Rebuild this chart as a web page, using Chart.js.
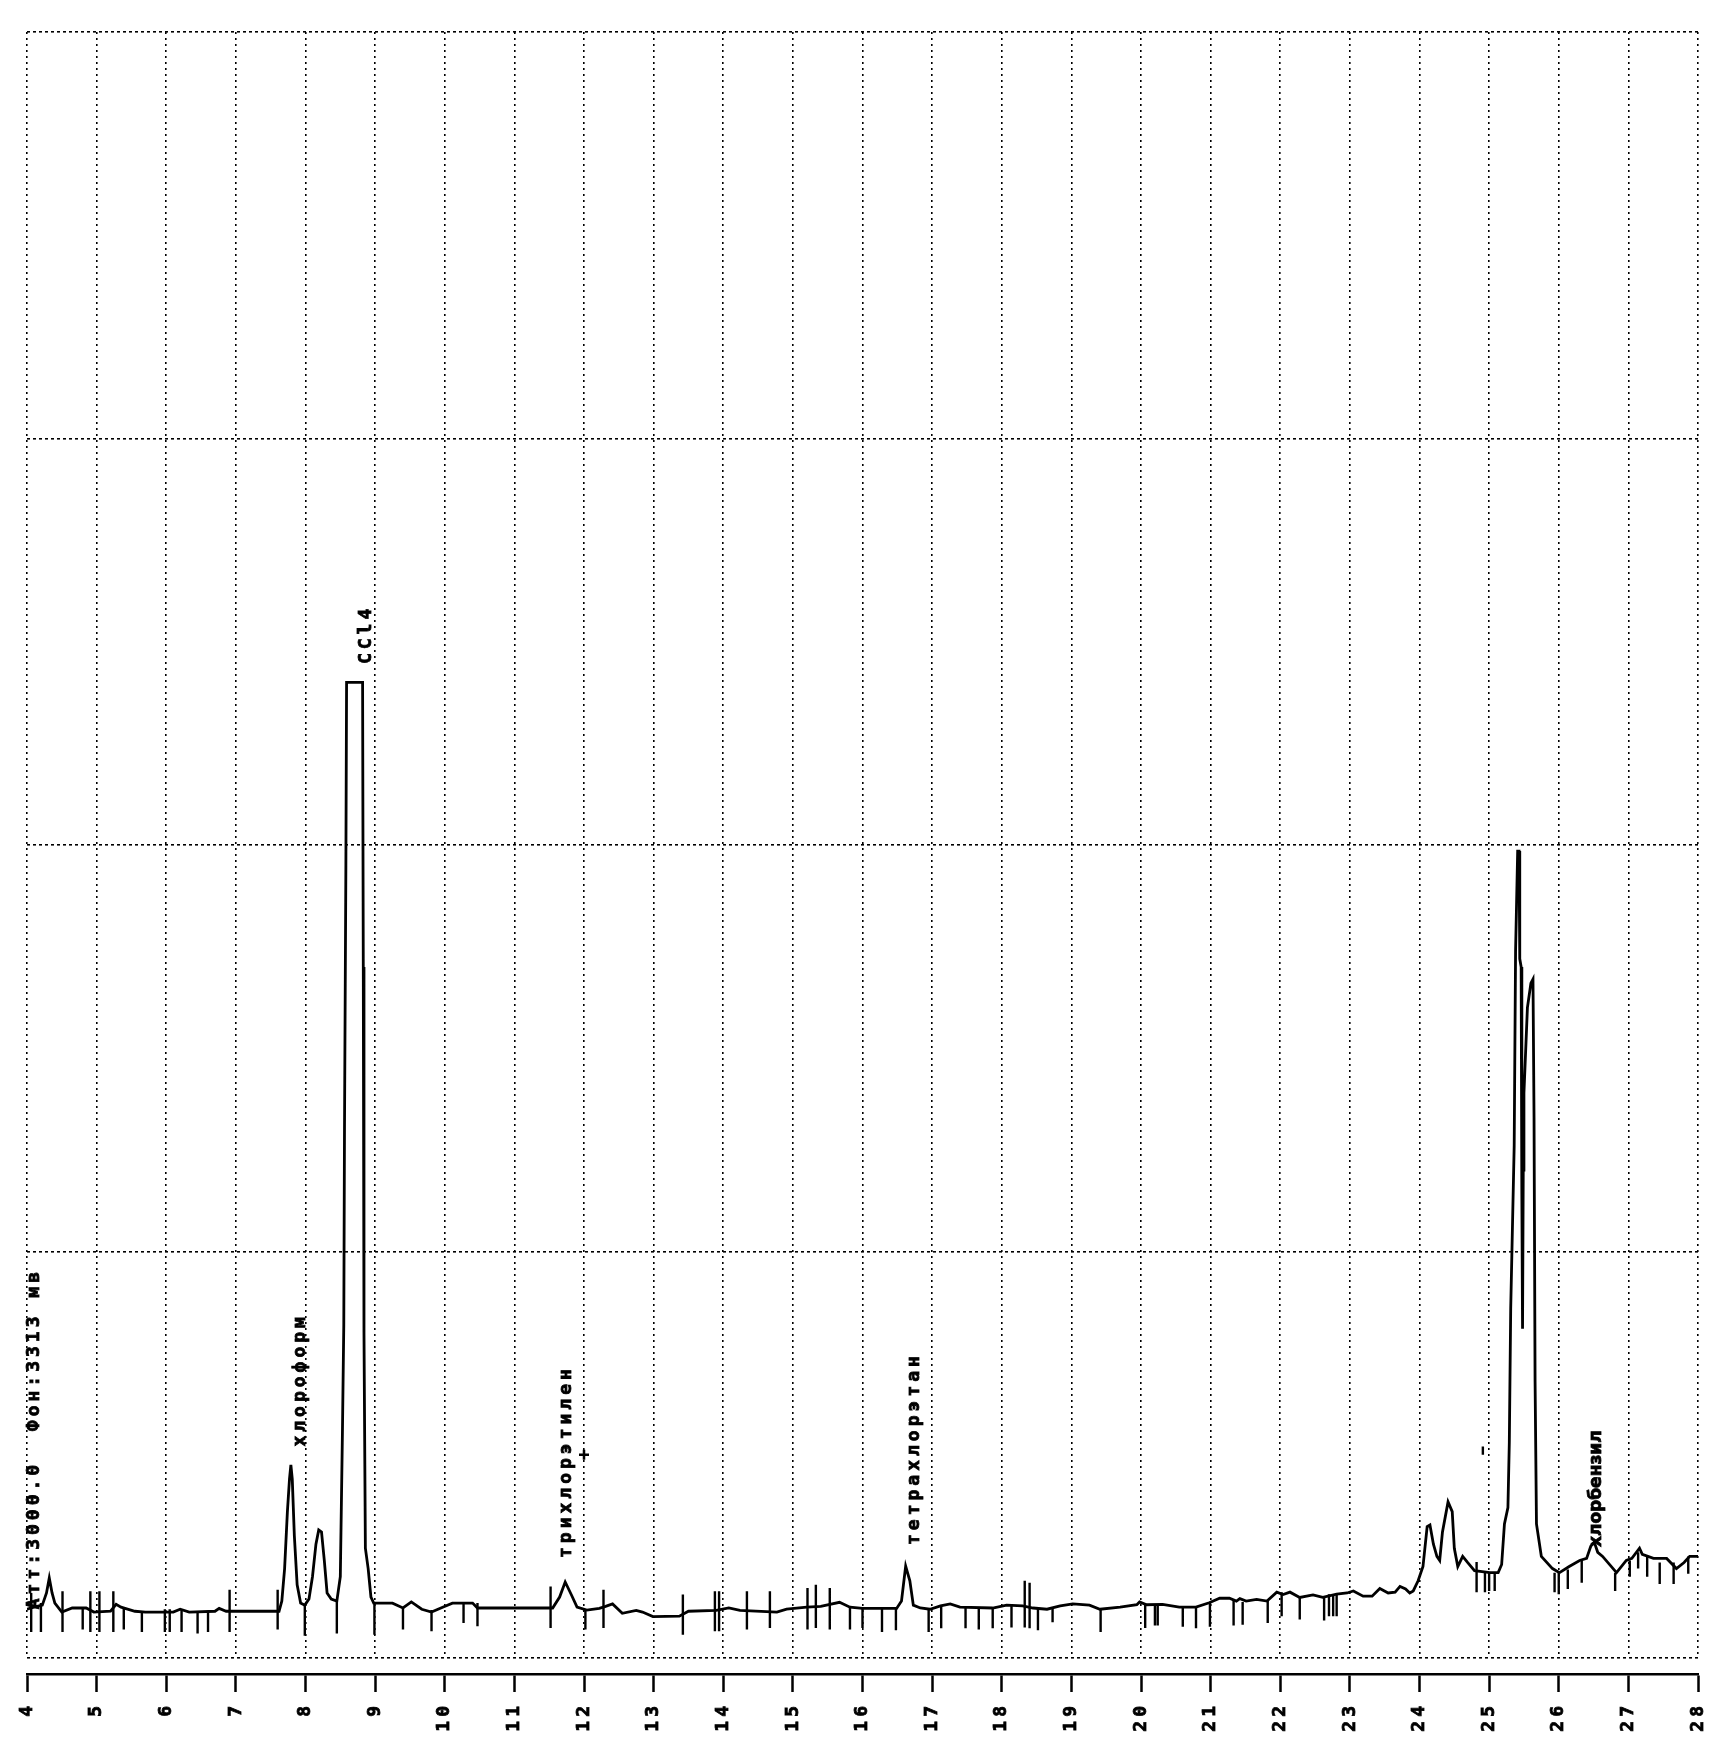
<!DOCTYPE html>
<html>
<head>
<meta charset="utf-8">
<script src="https://cdn.jsdelivr.net/npm/chart.js@4.4.1/dist/chart.umd.min.js"></script>
<style>
  html, body { margin: 0; padding: 0; background: #fff; }
  #wrap { width: 1732px; height: 1744px; position: relative; }
</style>
</head>
<body>
<div id="wrap"><canvas id="chromChart"></canvas></div>
<script>
// retention time, min (x) and detector signal in grid divisions (y)
const traceTimes = [
  4.00, 4.10, 4.22, 4.28, 4.32, 4.36, 4.40, 4.50, 4.65, 4.85, 4.96, 5.20, 5.28, 5.35, 5.55, 5.70,
  6.10, 6.20, 6.33, 6.70, 6.76, 6.86, 7.62, 7.66, 7.70, 7.74, 7.77, 7.79, 7.81, 7.84, 7.88, 7.93,
  7.99, 8.05, 8.10, 8.15, 8.19, 8.23, 8.27, 8.31, 8.37, 8.45, 8.50, 8.53, 8.55, 8.56, 8.58, 8.59,
  8.82, 8.83, 8.84, 8.86, 8.90, 8.94, 8.98, 9.25, 9.40, 9.52, 9.67, 9.81, 9.97, 10.11, 10.40, 10.47,
  11.55, 11.65, 11.73, 11.82, 11.90, 12.04, 12.22, 12.31, 12.41, 12.55, 12.75, 12.84, 12.99, 13.37,
  13.50, 13.90, 14.08, 14.24, 14.77, 14.91, 15.20, 15.40, 15.67, 15.82, 16.00, 16.49, 16.56, 16.62,
  16.68, 16.73, 16.83, 16.97, 17.12, 17.26, 17.40, 17.87, 18.07, 18.30, 18.45, 18.65, 18.84, 19.02,
  19.26, 19.41, 19.70, 19.94, 19.98, 20.08, 20.31, 20.55, 20.79, 20.98, 21.13, 21.27, 21.37, 21.42,
  21.51, 21.66, 21.81, 21.95, 22.04, 22.14, 22.28, 22.47, 22.61, 22.81, 22.96, 23.05, 23.19, 23.32,
  23.43, 23.55, 23.65, 23.72, 23.80, 23.86, 23.91, 23.98, 24.05, 24.11, 24.15, 24.20, 24.25, 24.29,
  24.33, 24.41, 24.47, 24.50, 24.55, 24.62, 24.69, 24.79, 25.01, 25.13, 25.18, 25.22, 25.27, 25.29,
  25.31, 25.36, 25.38, 25.41, 25.43, 25.44, 25.46, 25.47, 25.48, 25.49, 25.50, 25.55, 25.60, 25.63,
  25.645, 25.66, 25.68, 25.75, 25.91, 26.01, 26.15, 26.30, 26.40, 26.46, 26.51, 26.56, 26.63, 26.83,
  26.97, 27.05, 27.16, 27.20, 27.36, 27.55, 27.69, 27.80, 27.88, 28.00
];
const traceValues = [
  0.120, 0.125, 0.130, 0.160, 0.197, 0.160, 0.135, 0.113, 0.123, 0.123, 0.113, 0.115, 0.132, 0.125, 0.115, 0.113,
  0.113, 0.120, 0.113, 0.115, 0.122, 0.115, 0.115, 0.140, 0.220, 0.360, 0.440, 0.475, 0.440, 0.300, 0.180, 0.135,
  0.130, 0.145, 0.200, 0.280, 0.315, 0.310, 0.240, 0.160, 0.145, 0.140, 0.200, 0.550, 0.820, 1.300, 1.950, 2.400,
  2.400, 1.700, 0.800, 0.270, 0.220, 0.150, 0.135, 0.135, 0.123, 0.138, 0.120, 0.113, 0.125, 0.135, 0.135, 0.123,
  0.123, 0.150, 0.187, 0.155, 0.125, 0.118, 0.122, 0.127, 0.133, 0.110, 0.117, 0.113, 0.102, 0.103,
  0.115, 0.117, 0.123, 0.117, 0.113, 0.120, 0.125, 0.127, 0.137, 0.125, 0.122, 0.122, 0.140, 0.226,
  0.190, 0.130, 0.123, 0.120, 0.128, 0.133, 0.125, 0.123, 0.130, 0.128, 0.123, 0.120, 0.128, 0.133,
  0.130, 0.120, 0.125, 0.131, 0.138, 0.131, 0.132, 0.125, 0.125, 0.136, 0.147, 0.147, 0.140, 0.146,
  0.140, 0.144, 0.140, 0.162, 0.156, 0.162, 0.149, 0.155, 0.149, 0.157, 0.160, 0.165, 0.152, 0.152,
  0.171, 0.160, 0.162, 0.176, 0.170, 0.160, 0.165, 0.190, 0.225, 0.323, 0.327, 0.280, 0.250, 0.240,
  0.310, 0.384, 0.360, 0.270, 0.225, 0.250, 0.235, 0.215, 0.210, 0.210, 0.230, 0.330, 0.370, 0.530,
  0.860, 1.260, 1.740, 1.985, 1.985, 1.720, 1.700, 1.140, 0.810, 1.200, 1.390, 1.600, 1.660, 1.670,
  1.330, 0.680, 0.330, 0.250, 0.220, 0.210, 0.225, 0.240, 0.245, 0.275, 0.285, 0.260, 0.250, 0.210,
  0.240, 0.245, 0.270, 0.255, 0.245, 0.245, 0.220, 0.235, 0.250, 0.250
];

// integration marks: time, upper and lower end
const tickTimes = [
  4.06, 4.20, 4.51, 4.80, 4.91, 5.04, 5.24, 5.39, 5.65, 5.98, 6.05, 6.22, 6.45, 6.60, 6.91, 7.60,
  7.99, 8.45, 8.99, 9.40, 9.81, 10.27, 10.47, 11.52, 12.02, 12.28, 13.42, 13.88, 13.94, 14.34, 14.67,
  15.21, 15.33, 15.53, 15.82, 16.00, 16.28, 16.48, 16.95, 17.13, 17.48, 17.67, 17.87, 18.14, 18.33,
  18.40, 18.52, 18.73, 19.42, 20.06, 20.20, 20.24, 20.60, 20.79, 20.99, 21.33, 21.46, 21.82, 22.02,
  22.28, 22.63, 22.70, 22.76, 22.81, 24.82, 24.91, 24.94, 25.00, 25.08, 25.94, 26.00, 26.13, 26.33,
  26.81, 27.02, 27.14, 27.27, 27.45, 27.65, 27.86
];
const tickTops = [
  0.160, 0.135, 0.164, 0.123, 0.164, 0.164, 0.164, 0.125, 0.115, 0.120, 0.120, 0.120, 0.115, 0.115, 0.168, 0.168,
  0.130, 0.140, 0.135, 0.123, 0.118, 0.135, 0.135, 0.176, 0.118, 0.168, 0.156, 0.164, 0.164, 0.164, 0.164,
  0.172, 0.180, 0.172, 0.125, 0.125, 0.123, 0.123, 0.120, 0.128, 0.123, 0.123, 0.123, 0.128, 0.190,
  0.185, 0.123, 0.123, 0.120, 0.131, 0.130, 0.130, 0.125, 0.125, 0.136, 0.140, 0.138, 0.140, 0.162,
  0.149, 0.149, 0.157, 0.157, 0.157, 0.236, 0.520, 0.210, 0.210, 0.210, 0.210, 0.210, 0.218, 0.240,
  0.210, 0.240, 0.260, 0.250, 0.235, 0.235, 0.250
];
const tickBottoms = [
  0.064, 0.064, 0.064, 0.070, 0.064, 0.064, 0.064, 0.070, 0.064, 0.064, 0.064, 0.064, 0.060, 0.064, 0.064, 0.070,
  0.055, 0.060, 0.057, 0.070, 0.066, 0.086, 0.078, 0.074, 0.070, 0.074, 0.057, 0.066, 0.066, 0.070, 0.074,
  0.070, 0.074, 0.070, 0.070, 0.074, 0.064, 0.068, 0.064, 0.073, 0.073, 0.070, 0.073, 0.075, 0.075,
  0.073, 0.068, 0.088, 0.064, 0.074, 0.080, 0.080, 0.077, 0.073, 0.077, 0.080, 0.082, 0.086, 0.103,
  0.095, 0.092, 0.103, 0.103, 0.103, 0.162, 0.500, 0.162, 0.165, 0.165, 0.162, 0.157, 0.170, 0.185,
  0.165, 0.200, 0.220, 0.200, 0.182, 0.182, 0.207
];

// small cross mark next to the trichloroethylene peak
const crossTimes = [12.0];
const crossValues = [0.50];

// peak names and the header, written vertically from their start point
const peakNames = ['Атт:3000.0  Фон:3313 мв', 'хлороформ', 'CCl4', 'трихлорэтилен', 'тетрахлорэтан', 'хлорбензил'];
const peakTimes = [4.11, 7.92, 8.88, 11.75, 16.74, 26.55];
const peakLevels = [0.12, 0.52, 2.445, 0.246, 0.278, 0.273];

// x axis tick labels
const timeLabels = [4, 5, 6, 7, 8, 9, 10, 11, 12, 13, 14, 15, 16, 17, 18, 19, 20, 21, 22, 23, 24, 25, 26, 27, 28];
const levelLines = [0, 1, 2, 3, 4];

const tracePoints = traceTimes.map((t, i) => ({ x: t, y: traceValues[i] }));
const tickPoints = [];
tickTimes.forEach((t, i) => {
    tickPoints.push({ x: t, y: tickTops[i] }, { x: t, y: tickBottoms[i] }, { x: t, y: null });
});
const crossPoints = crossTimes.map((t, i) => ({ x: t, y: crossValues[i] }));

// wide printer-like spacing for the axis digits
const wideText = {
    id: 'wideText',
    beforeDraw(chart) { chart.ctx.letterSpacing = '4px'; },
    afterDraw(chart) { chart.ctx.letterSpacing = '0px'; }
};

// vertical text for peak names
const peakLabels = {
    id: 'peakLabels',
    afterDatasetsDraw(chart) {
        const { ctx, scales } = chart;
        peakNames.forEach((name, i) => {
            const px = scales.x.getPixelForValue(peakTimes[i]);
            const py = scales.y.getPixelForValue(peakLevels[i]);
            ctx.save();
            ctx.translate(px, py);
            ctx.rotate(-Math.PI / 2);
            ctx.fillStyle = '#000';
            ctx.strokeStyle = '#000';
            ctx.lineWidth = 0.8;
            if (name === 'хлорбензил') {
                ctx.font = 'bold 17px "DejaVu Sans"';
                ctx.letterSpacing = '0px';
            } else {
                ctx.font = 'bold 18px "DejaVu Sans Mono"';
                ctx.letterSpacing = '4px';
            }
            ctx.textAlign = 'left';
            ctx.textBaseline = 'middle';
            ctx.fillText(name, 0, 0);
            ctx.strokeText(name, 0, 0);
            ctx.restore();
        });
    }
};

const ctx = document.getElementById('chromChart').getContext('2d');
const chromChart = new Chart(ctx, {
    type: 'line',
    data: {
        datasets: [
            {
                label: 'signal',
                data: tracePoints,
                borderColor: '#000',
                borderWidth: 2.8,
                pointRadius: 0,
                tension: 0,
                fill: false
            },
            {
                label: 'marks',
                data: tickPoints,
                borderColor: '#000',
                borderWidth: 2.4,
                pointRadius: 0,
                spanGaps: false,
                fill: false
            },
            {
                label: 'cross',
                data: crossPoints,
                showLine: false,
                pointStyle: 'cross',
                pointRadius: 5,
                borderColor: '#000',
                borderWidth: 2.5
            }
        ]
    },
    plugins: [wideText, peakLabels],
    options: {
        responsive: true,
        maintainAspectRatio: false,
        animation: false,
        layout: { padding: { top: 32, left: 27, right: 34, bottom: 0 } },
        plugins: {
            legend: { display: false },
            tooltip: { enabled: false }
        },
        scales: {
            // dotted grid only, fills the gap down to the axis line
            x: {
                type: 'linear',
                position: 'bottom',
                weight: 0,
                min: 4,
                max: 28,
                afterBuildTicks: scale => { scale.ticks = timeLabels.map(v => ({ value: v })); },
                afterFit: scale => { scale.height = 16; },
                ticks: { display: false },
                grid: { color: '#000', lineWidth: 1.6, drawTicks: false },
                border: { display: false, dash: [2, 4] }
            },
            // the solid time axis with labels
            xAxis: {
                type: 'linear',
                position: 'bottom',
                weight: 1,
                min: 4,
                max: 28,
                afterBuildTicks: scale => { scale.ticks = timeLabels.map(v => ({ value: v })); },
                afterFit: scale => { scale.height = 70; },
                ticks: {
                    autoSkip: false,
                    minRotation: 90,
                    maxRotation: 90,
                    padding: 10,
                    color: '#000',
                    textStrokeColor: '#000',
                    textStrokeWidth: 0.8,
                    font: { family: '"DejaVu Sans Mono"', size: 18, weight: 'bold' }
                },
                grid: {
                    drawOnChartArea: false,
                    drawTicks: true,
                    tickLength: 18,
                    tickWidth: 2.5,
                    tickColor: '#000',
                    color: '#000'
                },
                border: { display: true, color: '#000', width: 2.5 }
            },
            y: {
                type: 'linear',
                min: 0,
                max: 4,
                afterBuildTicks: scale => { scale.ticks = levelLines.map(v => ({ value: v })); },
                afterFit: scale => { scale.width = 0; },
                ticks: { display: false },
                grid: { color: '#000', lineWidth: 1.6, drawTicks: false },
                border: { display: false, dash: [3, 3] }
            }
        }
    }
});
</script>
</body>
</html>
